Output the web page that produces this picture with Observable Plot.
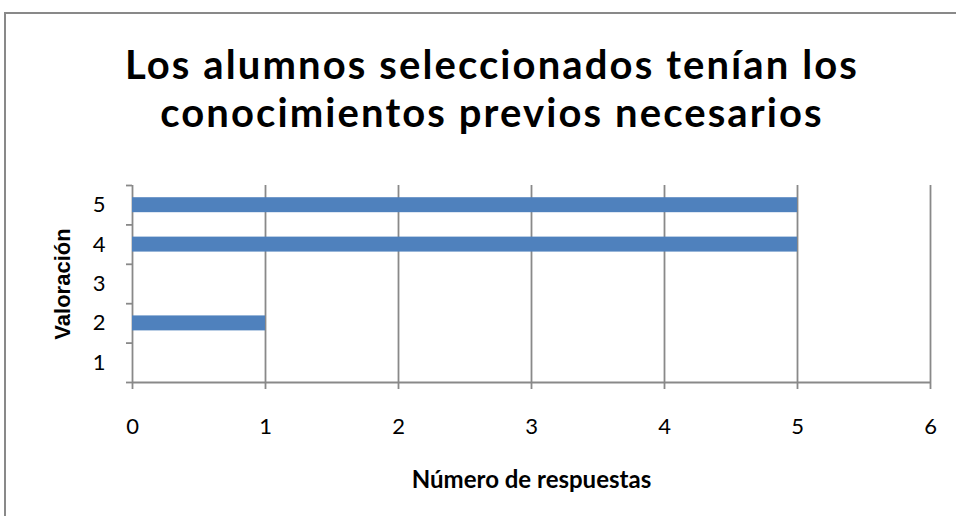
<!DOCTYPE html>
<html>
<head>
<meta charset="utf-8">
<script src="https://cdn.jsdelivr.net/npm/d3@7"></script>
<script src="https://cdn.jsdelivr.net/npm/@observablehq/plot@0.6"></script>
<style>
  html, body { margin: 0; padding: 0; background: #fff; }
  #wrap { position: relative; width: 956px; height: 516px; overflow: hidden; background: #fff; }
  #frame { position: absolute; left: 4px; top: 12px; width: 1000px; height: 600px;
           border-left: 2px solid #898989; border-top: 2px solid #898989; box-sizing: border-box; }
  #title { position: relative; height: 170px; box-sizing: border-box; padding-top: 40px;
           font-family: Lato, "Open Sans", sans-serif; font-weight: 700; font-size: 40px;
           letter-spacing: 2.1px; line-height: 48px; text-align: center; color: #000; padding-left: 28px; }
  #chart { position: relative; }
</style>
</head>
<body>
<div id="wrap">
  <div id="frame"></div>
  <div id="title">Los alumnos seleccionados tenían los<br>conocimientos previos necesarios</div>
  <div id="chart"></div>
</div>
<script>
const categories = [1, 2, 3, 4, 5];
const counts = [0, 1, 0, 5, 5];
const xTicks = [0, 1, 2, 3, 4, 5, 6];
const xLabel = "Número de respuestas";
const yLabel = "Valoración";

const data = categories.map((c, i) => ({cat: c, n: counts[i]}));
const half = 0.19;
const gray = "#898989";
const font = "Lato, 'Open Sans', sans-serif";

const plot = Plot.plot({
  width: 956,
  height: 346,
  marginTop: 15,
  marginBottom: 134,
  marginLeft: 132,
  marginRight: 26,
  style: {fontFamily: font, fontSize: "22px", color: "#000", overflow: "visible"},
  x: {domain: [0, 6], ticks: xTicks},
  y: {domain: [0.5, 5.5]},
  marks: [
    Plot.ruleX(xTicks, {stroke: gray, strokeWidth: 1.8}),
    Plot.rectX(data.filter(d => d.n > 0), {x1: 0, x2: "n", y1: d => d.cat - half, y2: d => d.cat + half, fill: "#4F81BD", inset: 0}),
    Plot.ruleY([0.5], {stroke: gray, strokeWidth: 1.8}),
    Plot.axisX({ticks: xTicks, tickSize: 7, tickPadding: 29, stroke: gray, strokeWidth: 1.8, label: null, fontSize: 22, tickFormat: d => String(d)}),
    Plot.axisY({ticks: [0.5, 1.5, 2.5, 3.5, 4.5, 5.5], tickSize: 6, stroke: gray, strokeWidth: 1.8, tickFormat: () => "", label: null}),
    Plot.axisY({ticks: categories, tickSize: 0, tickPadding: 27, label: null, fontSize: 22, tickFormat: d => String(d)}),
    Plot.text([xLabel], {frameAnchor: "bottom", dy: 98, lineAnchor: "middle", textAnchor: "middle", text: d => d, fontWeight: "bold", fontSize: 24}),
    Plot.text([yLabel], {frameAnchor: "left", dx: -70, rotate: -90, lineAnchor: "middle", textAnchor: "middle", text: d => d, fontWeight: "bold", fontSize: 22, fontFamily: "'Liberation Sans', Arial, sans-serif"})
  ]
});
document.getElementById("chart").appendChild(plot);
</script>
</body>
</html>
